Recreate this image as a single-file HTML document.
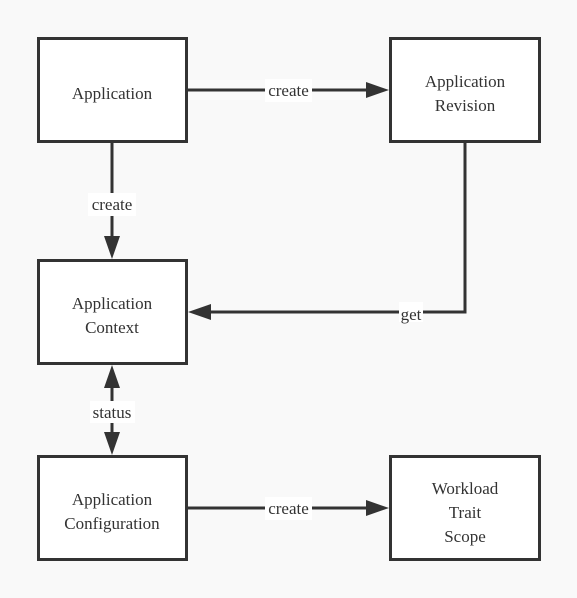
<!DOCTYPE html>
<html><head><meta charset="utf-8"><style>
html,body{margin:0;padding:0;background:#f9f9f9;}
svg{display:block;}
svg text{font-family:"Liberation Serif","DejaVu Serif",serif !important;font-size:17px;fill:#333;}
</style></head><body>
<svg width="577" height="598" viewBox="0 0 577 598" xmlns="http://www.w3.org/2000/svg">
<rect width="577" height="598" fill="#f9f9f9"/>
<g fill="#fff" stroke="#333" stroke-width="3">
<rect x="38.5" y="38.5" width="148" height="103"/>
<rect x="390.5" y="38.5" width="149" height="103"/>
<rect x="38.5" y="260.5" width="148" height="103"/>
<rect x="38.5" y="456.5" width="148" height="103"/>
<rect x="390.5" y="456.5" width="149" height="103"/>
</g>
<g stroke="#333" stroke-width="3" fill="none">
<line x1="188" y1="90" x2="368" y2="90"/>
<line x1="112" y1="143" x2="112" y2="238"/>
<polyline points="465,143 465,312 210,312"/>
<line x1="112" y1="385" x2="112" y2="435"/>
<line x1="188" y1="508" x2="368" y2="508"/>
</g>
<g fill="#333">
<polygon points="389,90 366,82 366,98"/>
<polygon points="112,259 104,236 120,236"/>
<polygon points="188,312 211,304 211,320"/>
<polygon points="112,365 104,388 120,388"/>
<polygon points="112,455 104,432 120,432"/>
<polygon points="389,508 366,500 366,516"/>
</g>
<g fill="#fff">
<rect x="265" y="79" width="47" height="23"/>
<rect x="88" y="193" width="48" height="23"/>
<rect x="399" y="302" width="24" height="20"/>
<rect x="90" y="401" width="45" height="22"/>
<rect x="265" y="497" width="47" height="23"/>
</g>
<g text-anchor="middle" font-family="Liberation Serif, DejaVu Serif, serif" font-size="17" fill="#333">
<text x="288.5" y="96">create</text>
<text x="112" y="210">create</text>
<text x="411" y="320">get</text>
<text x="112" y="418">status</text>
<text x="288.5" y="514">create</text>
<text x="112" y="99">Application</text>
<text x="465" y="87">Application</text>
<text x="465" y="111">Revision</text>
<text x="112" y="309">Application</text>
<text x="112" y="333">Context</text>
<text x="112" y="505">Application</text>
<text x="112" y="529">Configuration</text>
<text x="465" y="494">Workload</text>
<text x="465" y="518">Trait</text>
<text x="465" y="542">Scope</text>
</g>
</svg>
</body></html>
